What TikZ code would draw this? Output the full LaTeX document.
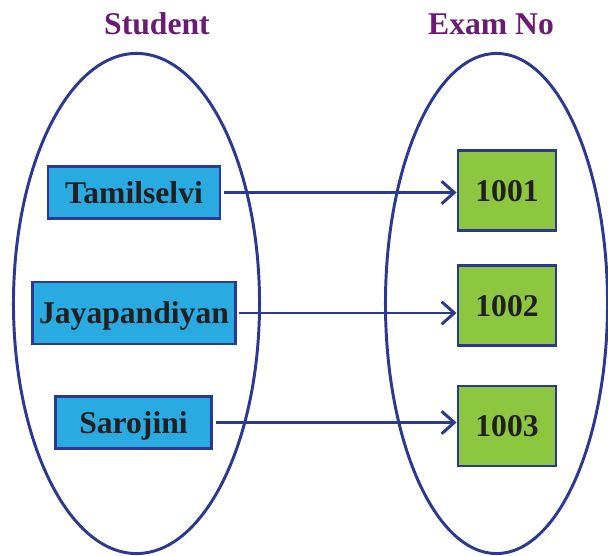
\documentclass[tikz,border=0pt]{standalone}
\usepackage{fontspec}
\setmainfont{Liberation Serif}
\usetikzlibrary{positioning, arrows.meta, shapes.geometric}
\definecolor{stnavy}{HTML}{2B3990}
\definecolor{stcyan}{HTML}{29ABE2}
\definecolor{stgreen}{HTML}{8DC63F}
\definecolor{stpurple}{HTML}{6A1B74}
\definecolor{sttext}{HTML}{231F20}

\begin{document}
\begin{tikzpicture}[x=0.025cm, y=-0.025cm,
    font=\fontsize{22.5}{27}\selectfont\bfseries,
    setoval/.style={draw=stnavy, line width=2.1pt, ellipse, inner sep=0pt,
      minimum height=12.5cm},
    stubox/.style={draw=stnavy, fill=stcyan, text=sttext, line width=2.1pt,
      inner sep=0pt, text height=15pt, text depth=0pt},
    numbox/.style={draw=stnavy, fill=stgreen, text=sttext, line width=2.1pt,
      inner sep=0pt, minimum width=2.45cm, minimum height=2.0cm,
      text height=15pt, text depth=0pt},
    maparrow/.style={draw=stnavy, line width=2.1pt, shorten <=2pt,
      -{Straight Barb[length=9pt, width=16pt]}}]
    \useasboundingbox (0,0) rectangle (608,556);
    % conjuntos
    \node[setoval, minimum width=6.15cm] (setA) at (136.5,303.5) {};
    \node[setoval, minimum width=5.55cm] (setB) at (496.5,303.5) {};
    % titulos
    \node[text=stpurple, anchor=base] (tA) at (157,35) {Student};
    \node[text=stpurple, anchor=base] (tB) at (491,35) {Exam No};
    % nomes
    \node[stubox, minimum width=4.3cm, minimum height=1.3cm] (s1) at (134,192.5) {Tamilselvi};
    \node[stubox, minimum width=5.05cm, minimum height=1.55cm] (s2) at (134,313) {Jayapandiyan};
    \node[stubox, minimum width=3.9cm, minimum height=1.3cm] (s3) at (133.5,422.5) {Sarojini};
    % numeros
    \node[numbox] (n1) at (507,190.5) {1001};
    \node[numbox] (n2) at (507,305.5) {1002};
    \node[numbox] (n3) at (507,426) {1003};
    % setas
    \foreach \i in {1,2,3}
      \draw[maparrow] (s\i.east) -- (s\i.east -| n\i.west);
\end{tikzpicture}
\end{document}
